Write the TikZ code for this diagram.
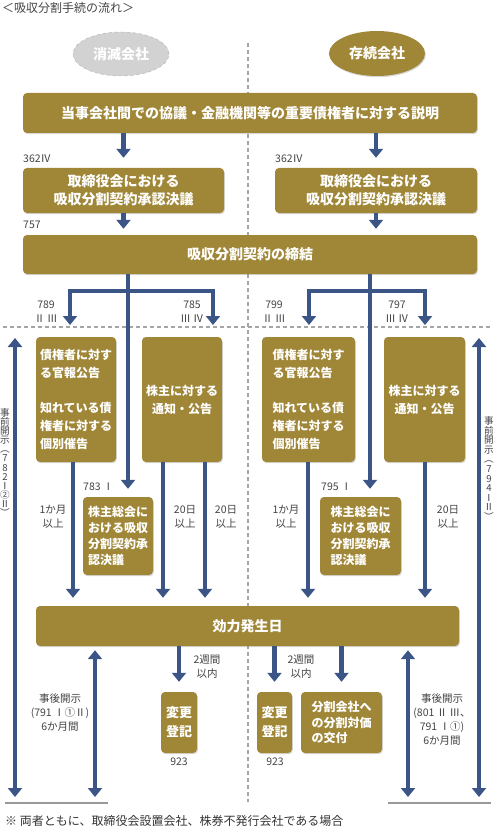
\documentclass[tikz,border=0pt]{standalone}
\usepackage{fontspec}
\setmainfont{Noto Sans CJK JP}
\usetikzlibrary{arrows.meta,shapes.geometric,shadows}
\definecolor{gold}{RGB}{160,135,56}
\definecolor{navy}{RGB}{60,85,135}
\definecolor{lblc}{RGB}{68,68,68}
\definecolor{dashc}{RGB}{165,165,165}
\begin{document}
\begin{tikzpicture}[x=1pt,y=-1pt,
  gbox/.style={fill=gold, rounded corners=4pt, text=white, inner sep=0pt,
    drop shadow={opacity=0.3,shadow xshift=0.8pt,shadow yshift=-1.2pt}},
  bigbox/.style={gbox, font=\fontsize{14}{18}\selectfont\bfseries, align=center},
  colbox/.style={gbox, font=\fontsize{12}{18}\selectfont\bfseries, align=left},
  lbl/.style={text=lblc, font=\fontsize{10.5}{14}\selectfont, inner sep=0pt, align=center},
  arrowA/.style={draw=navy, line width=4.5pt, -{Triangle[width=14pt,length=9pt]}},
  darrow/.style={draw=navy, line width=4.5pt, {Triangle[width=14pt,length=9pt]}-{Triangle[width=14pt,length=9pt]}},
  dashsep/.style={draw=dashc, line width=1.1pt, dash pattern=on 4pt off 3pt},
  baseln/.style={draw=gray!80, line width=1.1pt},
]
\fill[white] (0,0) rectangle (496,837);
\useasboundingbox (0,0) rectangle (496,837);

% separators
\draw[dashsep] (248,43) -- (248,802);
\draw[dashsep] (3,327) -- (491,327);

% title and footnote
\node[anchor=west, inner sep=0pt, text=lblc, font=\fontsize{12}{14}\selectfont] (title) at (2,8) {＜吸収分割手続の流れ＞};
\node[anchor=west, inner sep=0pt, text=black!80, font=\fontsize{12}{14}\selectfont] (foot) at (5,821) {※ 両者ともに、取締役会設置会社、株券不発行会社である場合};

% ellipses
\node[ellipse, minimum width=96pt, minimum height=44pt, fill=gray!35, draw=gray!60, dashed, text=white, font=\fontsize{14}{18}\selectfont\bfseries] (e1) at (121,54) {消滅会社};
\node[ellipse, minimum width=96pt, minimum height=45pt, fill=gold, text=white, font=\fontsize{14}{18}\selectfont\bfseries,
  drop shadow={opacity=0.3,shadow xshift=0.8pt,shadow yshift=-1.2pt}] (e2) at (377,53.5) {存続会社};

% main boxes
\node[bigbox, minimum width=454pt, minimum height=40pt] (b1) at (250,113) {当事会社間での協議・金融機関等の重要債権者に対する説明};
\node[bigbox, minimum width=201pt, minimum height=45pt] (cL) at (123.5,190.5) {取締役会における\\吸収分割契約承認決議};
\node[bigbox, minimum width=202pt, minimum height=45pt] (cR) at (376,190.5) {取締役会における\\吸収分割契約承認決議};
\node[bigbox, minimum width=454pt, minimum height=39pt] (b2) at (250,254.5) {吸収分割契約の締結};

\node[colbox, minimum width=80pt, minimum height=125pt] (l1) at (76,399.5) {債権者に対す\\る官報公告\\[17pt]知れている債\\権者に対する\\個別催告};
\node[colbox, minimum width=80pt, minimum height=125pt, align=center] (l2) at (182,399.5) {株主に対する\\通知・公告};
\node[colbox, minimum width=70pt, minimum height=78pt, font=\fontsize{12}{16.2}\selectfont\bfseries] (l3) at (118,536) {株主総会に\\おける吸収\\分割契約承\\認決議};

\node[colbox, minimum width=93pt, minimum height=125pt] (r1) at (308.5,399.5) {債権者に対す\\る官報公告\\[17pt]知れている債\\権者に対する\\個別催告};
\node[colbox, minimum width=81pt, minimum height=125pt, align=center] (r2) at (424.5,399.5) {株主に対する\\通知・公告};
\node[colbox, minimum width=81pt, minimum height=78pt, font=\fontsize{12}{16.2}\selectfont\bfseries] (r3) at (360.5,536) {株主総会に\\おける吸収\\分割契約承\\認決議};

\node[bigbox, minimum width=423pt, minimum height=40pt] (eff) at (247.5,626) {効力発生日};

\node[colbox, minimum width=36pt, minimum height=61pt, align=center, font=\fontsize{13}{19}\selectfont\bfseries] (hL) at (179,722.5) {変更\\登記};
\node[colbox, minimum width=35pt, minimum height=61pt, align=center, font=\fontsize{13}{19}\selectfont\bfseries] (hR) at (274.5,722.5) {変更\\登記};
\node[colbox, minimum width=81pt, minimum height=61pt, font=\fontsize{12}{15.5}\selectfont\bfseries] (bk) at (341.5,722.5) {分割会社へ\\の分割対価\\の交付};

% labels
\node[lbl, anchor=west] (n1) at (23,159) {362Ⅳ};
\node[lbl, anchor=west] (n2) at (275,159) {362Ⅳ};
\node[lbl, anchor=west] (n3) at (23,225) {757};
\node[lbl] (n4) at (46,312) {789\\Ⅱ Ⅲ};
\node[lbl] (n5) at (192,312) {785\\Ⅲ Ⅳ};
\node[lbl] (n6) at (274,312) {799\\Ⅱ Ⅲ};
\node[lbl] (n7) at (397,312) {797\\Ⅲ Ⅳ};
\node[lbl, anchor=west] (n8) at (83,487) {783 Ⅰ};
\node[lbl, anchor=west] (n9) at (321,487) {795 Ⅰ};
\node[lbl] (n10) at (53,516.5) {1か月\\以上};
\node[lbl] (n11) at (286,516.5) {1か月\\以上};
\node[lbl] (n12) at (185,516.5) {20日\\以上};
\node[lbl] (n13) at (226,516.5) {20日\\以上};
\node[lbl] (n14) at (448,516.5) {20日\\以上};
\node[lbl] (n15) at (207,667) {2週間\\以内};
\node[lbl] (n16) at (301,667) {2週間\\以内};
\node[lbl] (n17) at (60,713) {事後開示\\(791 Ⅰ①Ⅱ)\\6か月間};
\node[lbl] (n18) at (442,720) {事後開示\\(801 Ⅱ Ⅲ、\\791 Ⅰ①)\\6か月間};
\node[lbl] (n19) at (179,762) {923};
\node[lbl] (n20) at (275,762) {923};
\node[lbl, font=\fontsize{9.6}{9.1}\selectfont] (vL) at (5,462.5) {事\\前\\開\\示\\︵\\7\\8\\2\\Ⅰ\\②\\Ⅱ\\︶};
\node[lbl, font=\fontsize{9.6}{9.6}\selectfont] (vR) at (489,468.5) {事\\前\\開\\示\\︵\\7\\9\\4\\Ⅰ\\Ⅱ\\︶};

% coordinates
\coordinate (jL) at (128,291);
\coordinate (jR) at (370,291);
\coordinate (tL1) at (70,325);
\coordinate (tL2) at (213,325);
\coordinate (tR1) at (309,325);
\coordinate (tR2) at (425,325);
\coordinate (xa) at (73,0);
\coordinate (xb) at (163,0);
\coordinate (xc) at (205,0);
\coordinate (xd) at (308,0);
\coordinate (xe) at (425,0);
\coordinate (LT) at (15,338);
\coordinate (LB) at (15,797);
\coordinate (RT) at (479,338);
\coordinate (RB) at (479,797);
\coordinate (sL) at (95,797);
\coordinate (sR) at (408,797);

% connectors top
\draw[arrowA, shorten >=10pt] (b1.south -| cL.north) -- (cL.north);
\draw[arrowA, shorten >=10pt] (b1.south -| cR.north) -- (cR.north);
\draw[arrowA, shorten >=6pt] (cL.south) -- (cL.south |- b2.north);
\draw[arrowA, shorten >=6pt] (cR.south) -- (cR.south |- b2.north);

% branches
\draw[arrowA, shorten >=8pt] (b2.south -| jL) -- (l3.north -| jL);
\draw[arrowA] (jL) -| (tL1);
\draw[arrowA] (jL) -| (tL2);
\draw[arrowA, shorten >=8pt] (b2.south -| jR) -- (r3.north -| jR);
\draw[arrowA] (jR) -| (tR1);
\draw[arrowA] (jR) -| (tR2);

% to effective date
\draw[arrowA, shorten >=8pt] (l1.south -| xa) -- (eff.north -| xa);
\draw[arrowA, shorten >=8pt] (l2.south -| xb) -- (eff.north -| xb);
\draw[arrowA, shorten >=8pt] (l2.south -| xc) -- (eff.north -| xc);
\draw[arrowA, shorten >=8pt] (r1.south -| xd) -- (eff.north -| xd);
\draw[arrowA, shorten >=8pt] (r2.south -| xe) -- (eff.north -| xe);

% after
\draw[arrowA, shorten >=10pt] (eff.south -| hL.north) -- (hL.north);
\draw[arrowA, shorten >=10pt] (eff.south -| hR.north) -- (hR.north);
\draw[arrowA, shorten >=10pt] (eff.south -| bk.north) -- (bk.north);

% disclosure arrows
\draw[darrow] (LT) -- (LB);
\draw[darrow] (RT) -- (RB);
\draw[darrow, shorten <=4pt] (eff.south -| sL) -- (sL);
\draw[darrow, shorten <=4pt] (eff.south -| sR) -- (sR);

\draw[baseln] (5,803) -- (108,803);
\draw[baseln] (388,803) -- (491,803);
\end{tikzpicture}
\end{document}
